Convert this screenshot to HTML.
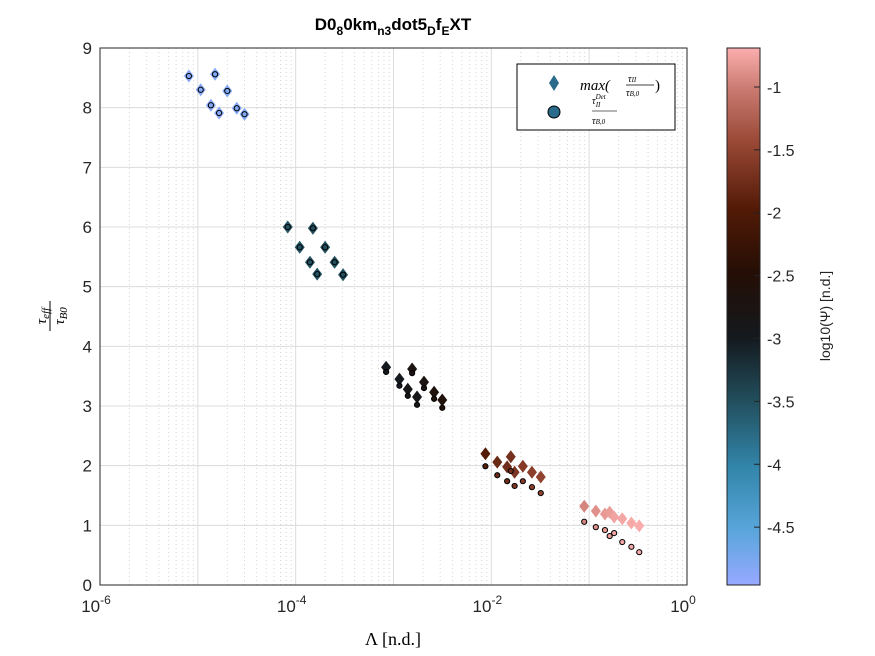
<!DOCTYPE html>
<html><head><meta charset="utf-8"><style>
body{margin:0;background:#fff;}
svg{display:block;font-family:"Liberation Sans",sans-serif;}
</style></head><body>
<svg id="chart" width="875" height="656" viewBox="0 0 875 656">
<defs>
<linearGradient id="cmap" x1="0" y1="1" x2="0" y2="0">
<stop offset="0" stop-color="#98a9ff"/>
<stop offset="0.1" stop-color="#5aa6dc"/>
<stop offset="0.22" stop-color="#3285aa"/>
<stop offset="0.34" stop-color="#22505f"/>
<stop offset="0.46" stop-color="#14191e"/>
<stop offset="0.58" stop-color="#240e05"/>
<stop offset="0.7" stop-color="#521a06"/>
<stop offset="0.82" stop-color="#974634"/>
<stop offset="0.92" stop-color="#c8786e"/>
<stop offset="1" stop-color="#fbaeae"/>
</linearGradient>
</defs>
<g id="grid"></g>
<g id="marks"></g>
<g id="axes"></g>
<text x="393" y="30" text-anchor="middle" font-weight="bold" font-size="17">D0<tspan font-size="12" dy="5">8</tspan><tspan dy="-5">0km</tspan><tspan font-size="12" dy="5">n3</tspan><tspan dy="-5">dot5</tspan><tspan font-size="12" dy="5">D</tspan><tspan dy="-5">f</tspan><tspan font-size="12" dy="5">E</tspan><tspan dy="-5">XT</tspan></text>
<text x="393" y="645" text-anchor="middle" font-size="18" font-family="Liberation Serif,serif">Λ [n.d.]</text>
<g transform="translate(50,316) rotate(-90)" font-family="Liberation Serif,serif" font-style="italic">
<text x="0" y="-4" text-anchor="middle" font-size="15">τ<tspan font-size="11" dy="3">eff</tspan></text>
<line x1="-15" y1="0" x2="15" y2="0" stroke="#000" stroke-width="1"/>
<text x="0" y="14" text-anchor="middle" font-size="15">τ<tspan font-size="11" dy="3">B0</tspan></text>
</g>
<g>
<rect x="517" y="64" width="158" height="66" fill="#fff" stroke="#000" stroke-width="1"/>
<polygon points="554,75 559,83 554,91 549,83" fill="#2a6a8a"/>
<text x="580" y="90" font-family="Liberation Serif,serif" font-style="italic" font-size="15">max(</text>
<text x="628" y="82" font-family="Liberation Serif,serif" font-style="italic" font-size="10">τ<tspan font-size="7">II</tspan></text>
<line x1="626" y1="85" x2="654" y2="85" stroke="#000" stroke-width="0.8"/>
<text x="626" y="96" font-family="Liberation Serif,serif" font-style="italic" font-size="10">τ<tspan font-size="7">B,0</tspan></text>
<text x="655" y="90" font-family="Liberation Serif,serif" font-size="15">)</text>
<circle cx="554" cy="112" r="6" fill="#2a6a8a" stroke="#000" stroke-width="1"/>
<text x="592" y="104" font-family="Liberation Serif,serif" font-style="italic" font-size="10">τ<tspan font-size="7" dy="-5">Det</tspan><tspan font-size="7" dx="-10" dy="8">II</tspan></text>
<line x1="592" y1="111" x2="617" y2="111" stroke="#888" stroke-width="1.2"/>
<text x="592" y="124" font-family="Liberation Serif,serif" font-style="italic" font-size="10">τ<tspan font-size="7">B,0</tspan></text>
</g>
<g>
<rect x="727" y="48" width="33" height="537" fill="url(#cmap)" stroke="#222" stroke-width="1"/>
<g id="cbticks"></g>
<text transform="translate(830,316) rotate(-90)" text-anchor="middle" font-size="14" fill="#222">log10(Ψ) [n.d.]</text>
</g>
</svg>
<script>
const xTickExps=[-6,-4,-2,0];
const yTicks=[0,1,2,3,4,5,6,7,8,9];
const cbTicks=[-1,-1.5,-2,-2.5,-3,-3.5,-4,-4.5];
const lambdaVals=[8.1e-6,1.5e-5,1.07e-5,2.0e-5,1.36e-5,2.5e-5,1.65e-5,3.0e-5,
 8.3e-5,1.5e-4,1.1e-4,2.0e-4,1.4e-4,2.5e-4,1.66e-4,3.05e-4,
 8.4e-4,1.55e-3,1.15e-3,2.05e-3,1.4e-3,2.6e-3,1.74e-3,3.15e-3,
 8.7e-3,1.15e-2,1.58e-2,1.45e-2,1.73e-2,2.1e-2,2.6e-2,3.2e-2,
 0.089,0.117,0.145,0.162,0.18,0.218,0.27,0.325];
const tauMax=[8.53,8.56,8.30,8.28,8.04,7.99,7.91,7.89,
 6.00,5.98,5.66,5.66,5.41,5.41,5.21,5.20,
 3.65,3.62,3.45,3.40,3.28,3.23,3.15,3.10,
 2.20,2.06,2.15,1.98,1.89,1.99,1.89,1.81,
 1.32,1.24,1.19,1.22,1.14,1.11,1.04,0.99];
const tauDet=[8.53,8.56,8.30,8.28,8.04,7.99,7.91,7.89,
 6.00,5.98,5.66,5.66,5.41,5.41,5.21,5.20,
 3.57,3.55,3.34,3.30,3.17,3.12,3.02,2.97,
 1.99,1.84,1.91,1.74,1.66,1.74,1.64,1.54,
 1.06,0.97,0.92,0.82,0.87,0.72,0.64,0.55];
const logPsi=[-4.85,-4.8,-4.85,-4.8,-4.85,-4.8,-4.85,-4.8,
 -3.55,-3.5,-3.55,-3.5,-3.55,-3.5,-3.55,-3.5,
 -3.0,-2.75,-3.0,-2.75,-2.9,-2.65,-2.9,-2.6,
 -1.95,-1.8,-1.7,-1.75,-1.65,-1.6,-1.55,-1.5,
 -0.95,-0.88,-0.82,-0.8,-0.76,-0.74,-0.72,-0.7];
const NS='http://www.w3.org/2000/svg';
const X0=100,X1=687,Y0=585,Y1=48;
function xs(v){return X0+(Math.log10(v)+6)/6*(X1-X0);}
function ys(v){return Y0-v/9*(Y0-Y1);}
const CB_TOP=-0.69,CB_BOT=-4.96;
function cby(v){return 48+(CB_TOP-v)/(CB_TOP-CB_BOT)*537;}
const stops=[[0,[152,169,255]],[0.1,[90,166,220]],[0.22,[50,133,170]],[0.34,[34,80,95]],[0.46,[20,25,30]],[0.58,[36,14,5]],[0.7,[82,26,6]],[0.82,[151,70,52]],[0.92,[200,120,110]],[1,[251,174,174]]];
function cmap(v){let t=(v-CB_BOT)/(CB_TOP-CB_BOT);t=Math.max(0,Math.min(1,t));
 for(let i=1;i<stops.length;i++){if(t<=stops[i][0]){const a=stops[i-1],b=stops[i];const f=(t-a[0])/(b[0]-a[0]);
 const c=a[1].map((x,k)=>Math.round(x+(b[1][k]-x)*f));return `rgb(${c[0]},${c[1]},${c[2]})`;}}return 'rgb(251,174,174)';}
function mk(tag,attrs,parent){const e=document.createElementNS(NS,tag);for(const k in attrs)e.setAttribute(k,attrs[k]);parent.appendChild(e);return e;}
const grid=document.getElementById('grid'),axes=document.getElementById('axes'),marks=document.getElementById('marks');
for(let e=-6;e<0;e++){for(let m=2;m<=9;m++){const x=xs(m*Math.pow(10,e));
 const l=mk('line',{x1:x,x2:x,y1:Y1,y2:Y0,stroke:'#d4d4d4','stroke-width':1,'stroke-dasharray':'1 3'},grid);
 
 }}
for(let e=-6;e<=0;e++){const x=xs(Math.pow(10,e));
 const l=mk('line',{x1:x,x2:x,y1:Y1,y2:Y0,stroke:'#dcdcdc','stroke-width':1},grid);
 
 }
yTicks.forEach(v=>{const y=ys(v);
 const l=mk('line',{x1:X0,x2:X1,y1:y,y2:y,stroke:'#dcdcdc','stroke-width':1},grid);
 
 
 const t=mk('text',{x:X0-8,y:y+6,'text-anchor':'end','font-size':17,fill:'#262626'},axes);t.textContent=v;
 
 });
mk('rect',{x:X0,y:Y1,width:X1-X0,height:Y0-Y1,fill:'none',stroke:'#262626','stroke-width':1},axes);
xTickExps.forEach(e=>{const x=xs(Math.pow(10,e));
 const t=mk('text',{x:x-4,y:612,'text-anchor':'middle','font-size':17,fill:'#262626'},axes);
 t.innerHTML='10<tspan font-size="12" dy="-8">'+e+'</tspan>';
 
 });
for(let i=0;i<lambdaVals.length;i++){const x=xs(lambdaVals[i]),y=ys(tauMax[i]);
 const d=mk('polygon',{points:`${x},${y-6.5} ${x+5},${y} ${x},${y+6.5} ${x-5},${y}`,fill:cmap(logPsi[i])},marks);
 
 }
for(let i=0;i<lambdaVals.length;i++){const x=xs(lambdaVals[i]),y=ys(tauDet[i]);
 const c=mk('circle',{cx:x,cy:y,r:2.6,fill:cmap(logPsi[i]),stroke:'#000','stroke-width':1},marks);
 
 }
const cbt=document.getElementById('cbticks');
cbTicks.forEach(v=>{const y=cby(v);
 mk('line',{x1:754,x2:760,y1:y,y2:y,stroke:'#222'},cbt);
 const t=mk('text',{x:767,y:y+6,'font-size':16,fill:'#262626'},cbt);t.textContent=v;
 
 });
</script>
</body></html>
